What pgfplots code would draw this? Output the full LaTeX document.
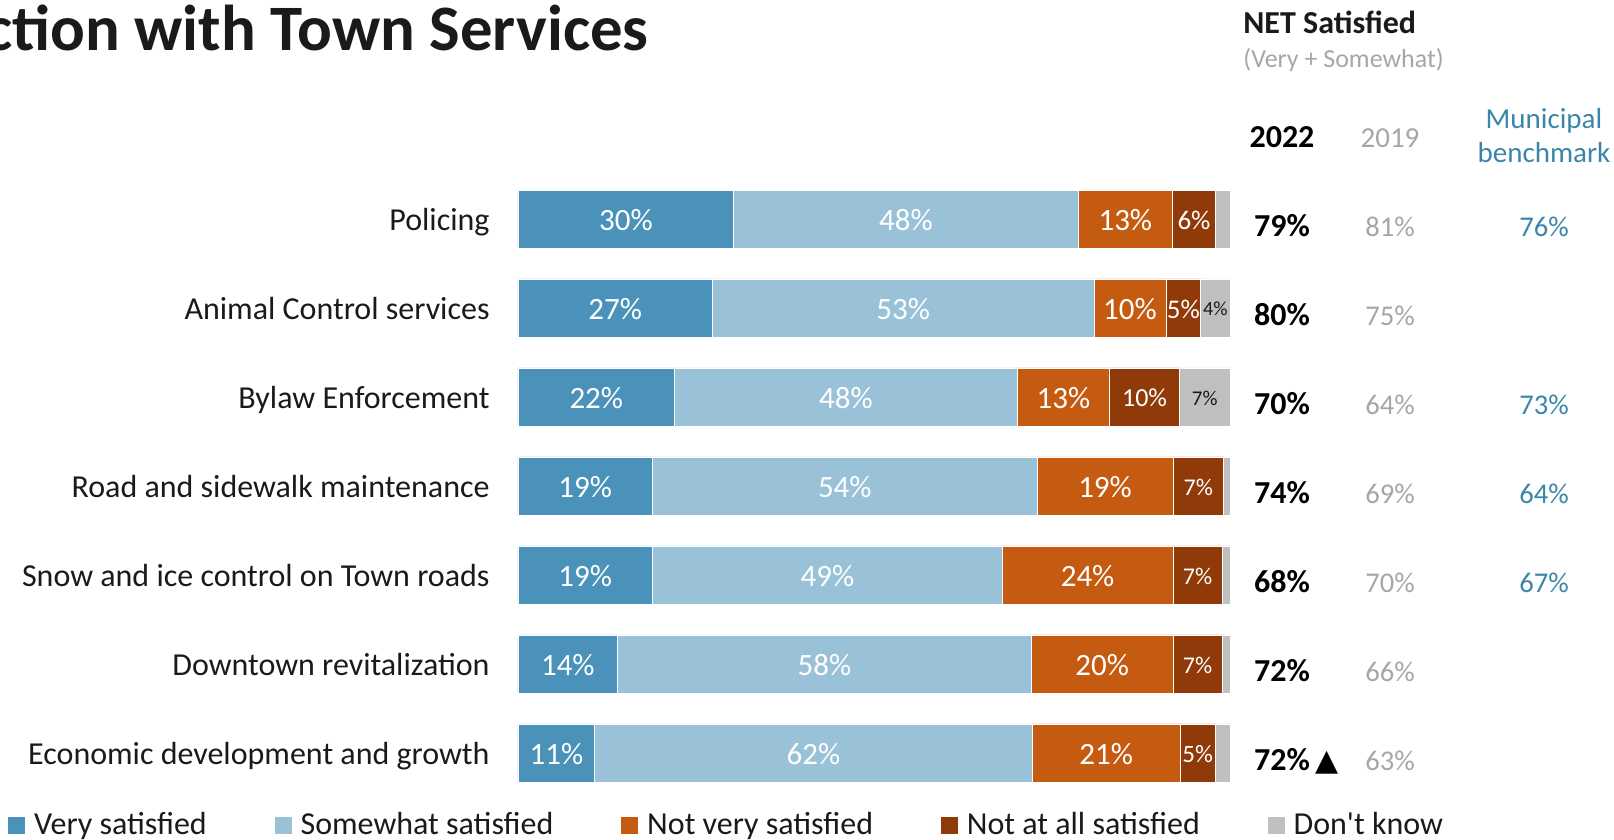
\documentclass[border=0pt]{standalone}
\usepackage{pgfplots}
\pgfplotsset{compat=1.18}
\usepackage{fontspec}
\setmainfont{Carlito}
\newfontfamily\dejavu{DejaVu Sans}
\definecolor{vs}{HTML}{4A92BA}
\definecolor{sw}{HTML}{99C2D8}
\definecolor{nv}{HTML}{C55A11}
\definecolor{na}{HTML}{8F3A08}
\definecolor{dk}{HTML}{BFBFBF}
\definecolor{benchc}{HTML}{3B86A8}
\definecolor{oldc}{HTML}{A6A6A6}
\definecolor{txt}{HTML}{1A1A1A}
\protected\def\fs#1{\fontsize{#1}{#1}\selectfont}
\begin{document}
\begin{tikzpicture}[x=1pt,y=1pt,
  newv/.style={anchor=base, inner sep=0pt, font=\bfseries\fs{16}, text=black},
  oldv/.style={anchor=base, inner sep=0pt, font=\fs{14.3}, text=oldc},
  benv/.style={anchor=base, inner sep=0pt, font=\fs{14.3}, text=benchc}]
\useasboundingbox (0,0) rectangle (807,420);
\clip (0,0) rectangle (807,420);
\begin{axis}[
  at={(259pt,21.25pt)}, anchor=south west,
  scale only axis, width=356pt, height=311.5pt,
  xmin=0, xmax=100, ymin=-0.5, ymax=6.5, enlargelimits=false,
  xbar stacked, bar width=29pt, clip=false,
  axis line style={draw=none}, xtick=\empty,
  ytick={0,1,2,3,4,5,6},
  yticklabels={Economic development and growth, Downtown revitalization, Snow and ice control on Town roads, Road and sidewalk maintenance, Bylaw Enforcement, Animal Control services, Policing},
  major tick length=0pt,
  yticklabel style={font=\fs{16}, text=txt, anchor=base east, inner sep=0pt, yshift=-5.7pt, xshift=-14pt},
  point meta=explicit symbolic,
  nodes near coords={\pgfplotspointmeta},
  every node near coord/.append style={font=\fs{15.5}, text=white, inner sep=0pt, yshift=-0.5pt},
  legend columns=5,
  legend style={at={(axis description cs:-0.7264,-0.0440)}, anchor=west, draw=none, fill=none,
    font=\fs{16}, text=txt, nodes={inner sep=0pt},
    /tikz/every odd column/.append style={column sep=4pt},
    /tikz/every even column/.append style={column sep=33.5pt}},
  legend cell align=left,
  myleg/.style={legend image code/.code={\fill[##1] (0pt,-4.5pt) rectangle (9pt,4.5pt);}},
]
\addplot[fill=vs, draw=white, line width=0.4pt, myleg] coordinates {
 (30.3,6) [30\%] (27.3,5) [27\%] (22.0,4) [22\%] (18.9,3) [19\%] (18.9,2) [19\%] (14.0,1) [14\%] (10.8,0) [11\%]};
\addlegendentry{Very satisfied}
\addplot[fill=sw, draw=white, line width=0.4pt, myleg] coordinates {
 (48.4,6) [48\%] (53.6,5) [53\%] (48.1,4) [48\%] (54.0,3) [54\%] (49.1,2) [49\%] (58.1,1) [58\%] (61.4,0) [62\%]};
\addlegendentry{Somewhat satisfied}
\addplot[fill=nv, draw=white, line width=0.4pt, myleg] coordinates {
 (13.2,6) [13\%] (10.1,5) [10\%] (13.0,4) [13\%] (19.1,3) [19\%] (24.0,2) [24\%] (19.9,1) [20\%] (20.8,0) [21\%]};
\addlegendentry{Not very satisfied}
\addplot[fill=na, draw=white, line width=0.4pt, myleg] coordinates {
 (6.1,6) [{\fs{13.5}6\%}] (4.9,5) [{\fs{13.5}5\%}] (9.8,4) [{\fs{13}10\%}] (7.1,3) [{\fs{12}7\%}] (6.9,2) [{\fs{12}7\%}] (6.9,1) [{\fs{12}7\%}] (4.9,0) [{\fs{12.5}5\%}]};
\addlegendentry{Not at all satisfied}
\addplot[fill=dk, draw=white, line width=0.4pt, myleg, every node near coord/.append style={text=txt}] coordinates {
 (2.0,6) [{ }] (4.1,5) [{\fs{10}4\%}] (7.1,4) [{\fs{10.5}7\%}] (0.9,3) [{ }] (1.1,2) [{ }] (1.1,1) [{ }] (2.1,0) [{ }]};
\addlegendentry{Don\textquotesingle t know}
\end{axis}
% title and column headers
\node[anchor=base east, inner sep=0pt, font=\bfseries\fs{32.4}, text=txt] at (324.5,394.5) {Satisfaction with Town Services};
\node[anchor=base west, inner sep=0pt, font=\bfseries\fs{16}, text=txt] at (621.5,403) {NET Satisfied};
\node[anchor=base west, inner sep=0pt, font=\fs{13}, text=oldc] at (621.5,386) {(Very + Somewhat)};
\node[anchor=base, inner sep=0pt, font=\bfseries\fs{16}, text=black] at (641,346) {2022};
\node[anchor=base, inner sep=0pt, font=\fs{14.5}, text=oldc] at (695,346) {2019};
\node[anchor=base, inner sep=0pt, font=\fs{14.5}, text=benchc] at (772,355.5) {Municipal};
\node[anchor=base, inner sep=0pt, font=\fs{14.5}, text=benchc] at (772,338.5) {benchmark};
% row values
\node[newv] at (641,301.5) {79\%}; \node[oldv] at (695,301.5) {81\%}; \node[benv] at (772,301.5) {76\%};
\node[newv] at (641,257.0) {80\%}; \node[oldv] at (695,257.0) {75\%};
\node[newv] at (641,212.5) {70\%}; \node[oldv] at (695,212.5) {64\%}; \node[benv] at (772,212.5) {73\%};
\node[newv] at (641,168.0) {74\%}; \node[oldv] at (695,168.0) {69\%}; \node[benv] at (772,168.0) {64\%};
\node[newv] at (641,123.5) {68\%}; \node[oldv] at (695,123.5) {70\%}; \node[benv] at (772,123.5) {67\%};
\node[newv] at (641,79.0) {72\%}; \node[oldv] at (695,79.0) {66\%};
\node[newv] at (641,34.5) {72\%}; \node[oldv] at (695,34.5) {63\%};
\node[anchor=base west, inner sep=0pt, font=\dejavu\fs{15}, text=black] at (657.5,34.5) {▲};
\end{tikzpicture}
\end{document}
